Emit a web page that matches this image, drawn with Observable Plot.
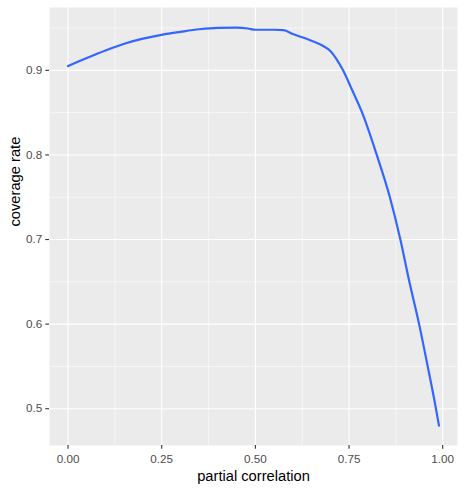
<!DOCTYPE html>
<html>
<head>
<meta charset="utf-8">
<script src="https://cdn.jsdelivr.net/npm/d3@7"></script>
<script src="https://cdn.jsdelivr.net/npm/@observablehq/plot@0.6"></script>
<style>
  html, body { margin: 0; padding: 0; background: white; }
</style>
</head>
<body>
<div id="chart"></div>
<script>
// partial correlation (x) and coverage rate (y)
const partialCorrelation = [0.00, 0.05, 0.10, 0.15, 0.20, 0.25, 0.30, 0.35, 0.40, 0.45, 0.48, 0.50, 0.55, 0.575, 0.60, 0.65, 0.68, 0.70, 0.717, 0.734, 0.758, 0.785, 0.824, 0.859, 0.887, 0.911, 0.937, 0.96, 0.982, 0.99];
const coverageRate      = [0.905, 0.9145, 0.9235, 0.9315, 0.9375, 0.942, 0.9455, 0.9486, 0.9503, 0.9505, 0.9495, 0.948, 0.948, 0.9475, 0.943, 0.935, 0.929, 0.923, 0.913, 0.900, 0.877, 0.850, 0.800, 0.750, 0.700, 0.650, 0.600, 0.550, 0.500, 0.480];

const xTicks = [0, 0.25, 0.5, 0.75, 1];
const xTickLabels = ["0.00", "0.25", "0.50", "0.75", "1.00"];
const yTicks = [0.5, 0.6, 0.7, 0.8, 0.9];
const yTickLabels = ["0.5", "0.6", "0.7", "0.8", "0.9"];
const xMinor = [0.125, 0.375, 0.625, 0.875];
const yMinor = [0.55, 0.65, 0.75, 0.85, 0.95];
const xTitle = "partial correlation";
const yTitle = "coverage rate";

const data = partialCorrelation.map((x, i) => ({x, y: coverageRate[i]}));

const chart = Plot.plot({
  width: 465,
  height: 491,
  marginLeft: 49,
  marginRight: 8,
  marginTop: 7,
  marginBottom: 46,
  x: {domain: [-0.0495, 1.0395]},
  y: {domain: [0.4565, 0.9743]},
  style: {fontFamily: "'Liberation Sans', Arial, sans-serif", background: "white"},
  marks: [
    Plot.frame({fill: "#EBEBEB", stroke: null}),
    Plot.ruleX(xMinor, {stroke: "white", strokeWidth: 0.55}),
    Plot.ruleY(yMinor, {stroke: "white", strokeWidth: 0.55}),
    Plot.ruleX(xTicks, {stroke: "white", strokeWidth: 1.1}),
    Plot.ruleY(yTicks, {stroke: "white", strokeWidth: 1.1}),
    Plot.line(data, {x: "x", y: "y", stroke: "#3366FF", strokeWidth: 2.2, curve: "monotone-x"}),
    Plot.axisX(xTicks, {
      tickFormat: d => xTickLabels[xTicks.indexOf(d)],
      tickSize: 3.7, tickPadding: 5.5, stroke: "#333333", strokeWidth: 1.1,
      color: "#4D4D4D", fill: "#4D4D4D", fontSize: 11.7, label: null
    }),
    Plot.axisY(yTicks, {
      tickFormat: d => yTickLabels[yTicks.indexOf(d)],
      tickSize: 3.7, tickPadding: 3.6, stroke: "#333333", strokeWidth: 1.1,
      color: "#4D4D4D", fill: "#4D4D4D", fontSize: 11.7, label: null
    }),
    Plot.text([xTitle], {text: d => d, frameAnchor: "bottom", lineAnchor: "middle", dy: 30.5, fontSize: 14.7, fill: "black"}),
    Plot.text([yTitle], {text: d => d, frameAnchor: "left", lineAnchor: "middle", rotate: -90, dx: -34.5, fontSize: 14.7, fill: "black"})
  ]
});
document.getElementById("chart").appendChild(chart);
</script>
</body>
</html>
